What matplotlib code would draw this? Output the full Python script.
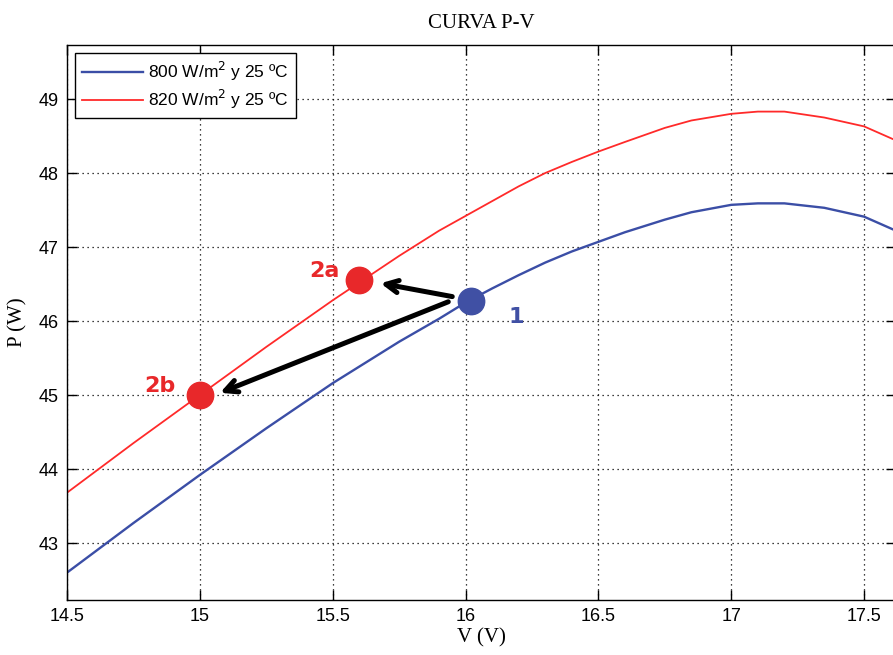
import matplotlib
matplotlib.use("Agg")
import matplotlib.pyplot as plt

# curvas P-V
V = [14.5, 14.75, 15.0, 15.25, 15.5, 15.75, 15.9, 16.0, 16.1, 16.2, 16.3, 16.4, 16.5, 16.6,
     16.75, 16.85, 17.0, 17.1, 17.2, 17.35, 17.5, 17.62]
P_800 = [42.60, 43.27, 43.92, 44.55, 45.16, 45.72, 46.03, 46.25, 46.44, 46.62, 46.79, 46.94, 47.07, 47.20,
         47.37, 47.47, 47.57, 47.59, 47.59, 47.53, 47.41, 47.22]
P_820 = [43.68, 44.35, 45.00, 45.65, 46.28, 46.88, 47.22, 47.42, 47.62, 47.82, 48.00, 48.15, 48.29, 48.42,
         48.61, 48.71, 48.80, 48.83, 48.83, 48.75, 48.63, 48.44]

# puntos de operacion
pt_names = ["1", "2a", "2b"]
pt_V = [16.02, 15.60, 15.00]
pt_P = [46.27, 46.56, 45.00]

xticks = [14.5, 15, 15.5, 16, 16.5, 17, 17.5]
yticks = [43, 44, 45, 46, 47, 48, 49]

blue = "#3b4ea6"
red = "#ff2a2a"

fig = plt.figure(figsize=(8.93, 6.55), dpi=100)
ax = fig.add_axes([67/893, 1-600/655, 829/893, 555/655])

ax.plot(V, P_800, color=blue, lw=1.7, label="800 W/m$^2$ y 25 ºC")
ax.plot(V, P_820, color=red, lw=1.3, label="820 W/m$^2$ y 25 ºC")

# flechas desde el punto 1
ax.annotate("", xy=(15.68, 46.51), xytext=(15.95, 46.33),
            arrowprops=dict(arrowstyle="->", color="black", lw=3.6, mutation_scale=22, shrinkA=0, shrinkB=0))
ax.annotate("", xy=(15.076, 45.03), xytext=(15.935, 46.26),
            arrowprops=dict(arrowstyle="->", color="black", lw=3.6, mutation_scale=22, shrinkA=0, shrinkB=0))

cols = ["#4050a4", "#e8282a", "#e8282a"]
for n, v, p, c in zip(pt_names, pt_V, pt_P, cols):
    ax.plot(v, p, "o", color=c, ms=19, zorder=5)
ax.text(16.19, 46.06, "1", color="#4050a4", fontsize=16, fontweight="bold", ha="center", va="center")
ax.text(15.47, 46.68, "2a", color="#e8282a", fontsize=16, fontweight="bold", ha="center", va="center")
ax.text(14.85, 45.12, "2b", color="#e8282a", fontsize=16, fontweight="bold", ha="center", va="center")

ax.set_xlim(14.5, 17.62)
ax.set_ylim(42.23, 49.73)
ax.set_xticks(xticks)
ax.set_xticklabels([f"{t:g}" for t in xticks], family="Liberation Sans", fontsize=13)
ax.set_yticks(yticks)
ax.set_yticklabels([str(t) for t in yticks], family="Liberation Sans", fontsize=13)
ax.tick_params(direction="in", length=7, width=1, top=True, right=True, pad=6)
ax.grid(True, color="black", ls=(0, (1, 3)), lw=0.9)
for s in ax.spines.values():
    s.set_linewidth(1)

ax.set_title("CURVA P-V", family="Liberation Serif", fontsize=15, pad=12)
ax.set_xlabel("V (V)", family="Liberation Serif", fontsize=15, labelpad=2)
ax.set_ylabel("P (W)", family="Liberation Serif", fontsize=15, labelpad=8)

leg = ax.legend(loc="upper left", bbox_to_anchor=(0.0097, 0.986), borderaxespad=0,
                prop={"family": "Liberation Sans", "size": 12.5}, fancybox=False,
                edgecolor="black", framealpha=1, handlelength=3.5, borderpad=0.4,
                labelspacing=0.3, handletextpad=0.3)
leg.get_frame().set_linewidth(1)

fig.savefig("out.png", dpi=100)
